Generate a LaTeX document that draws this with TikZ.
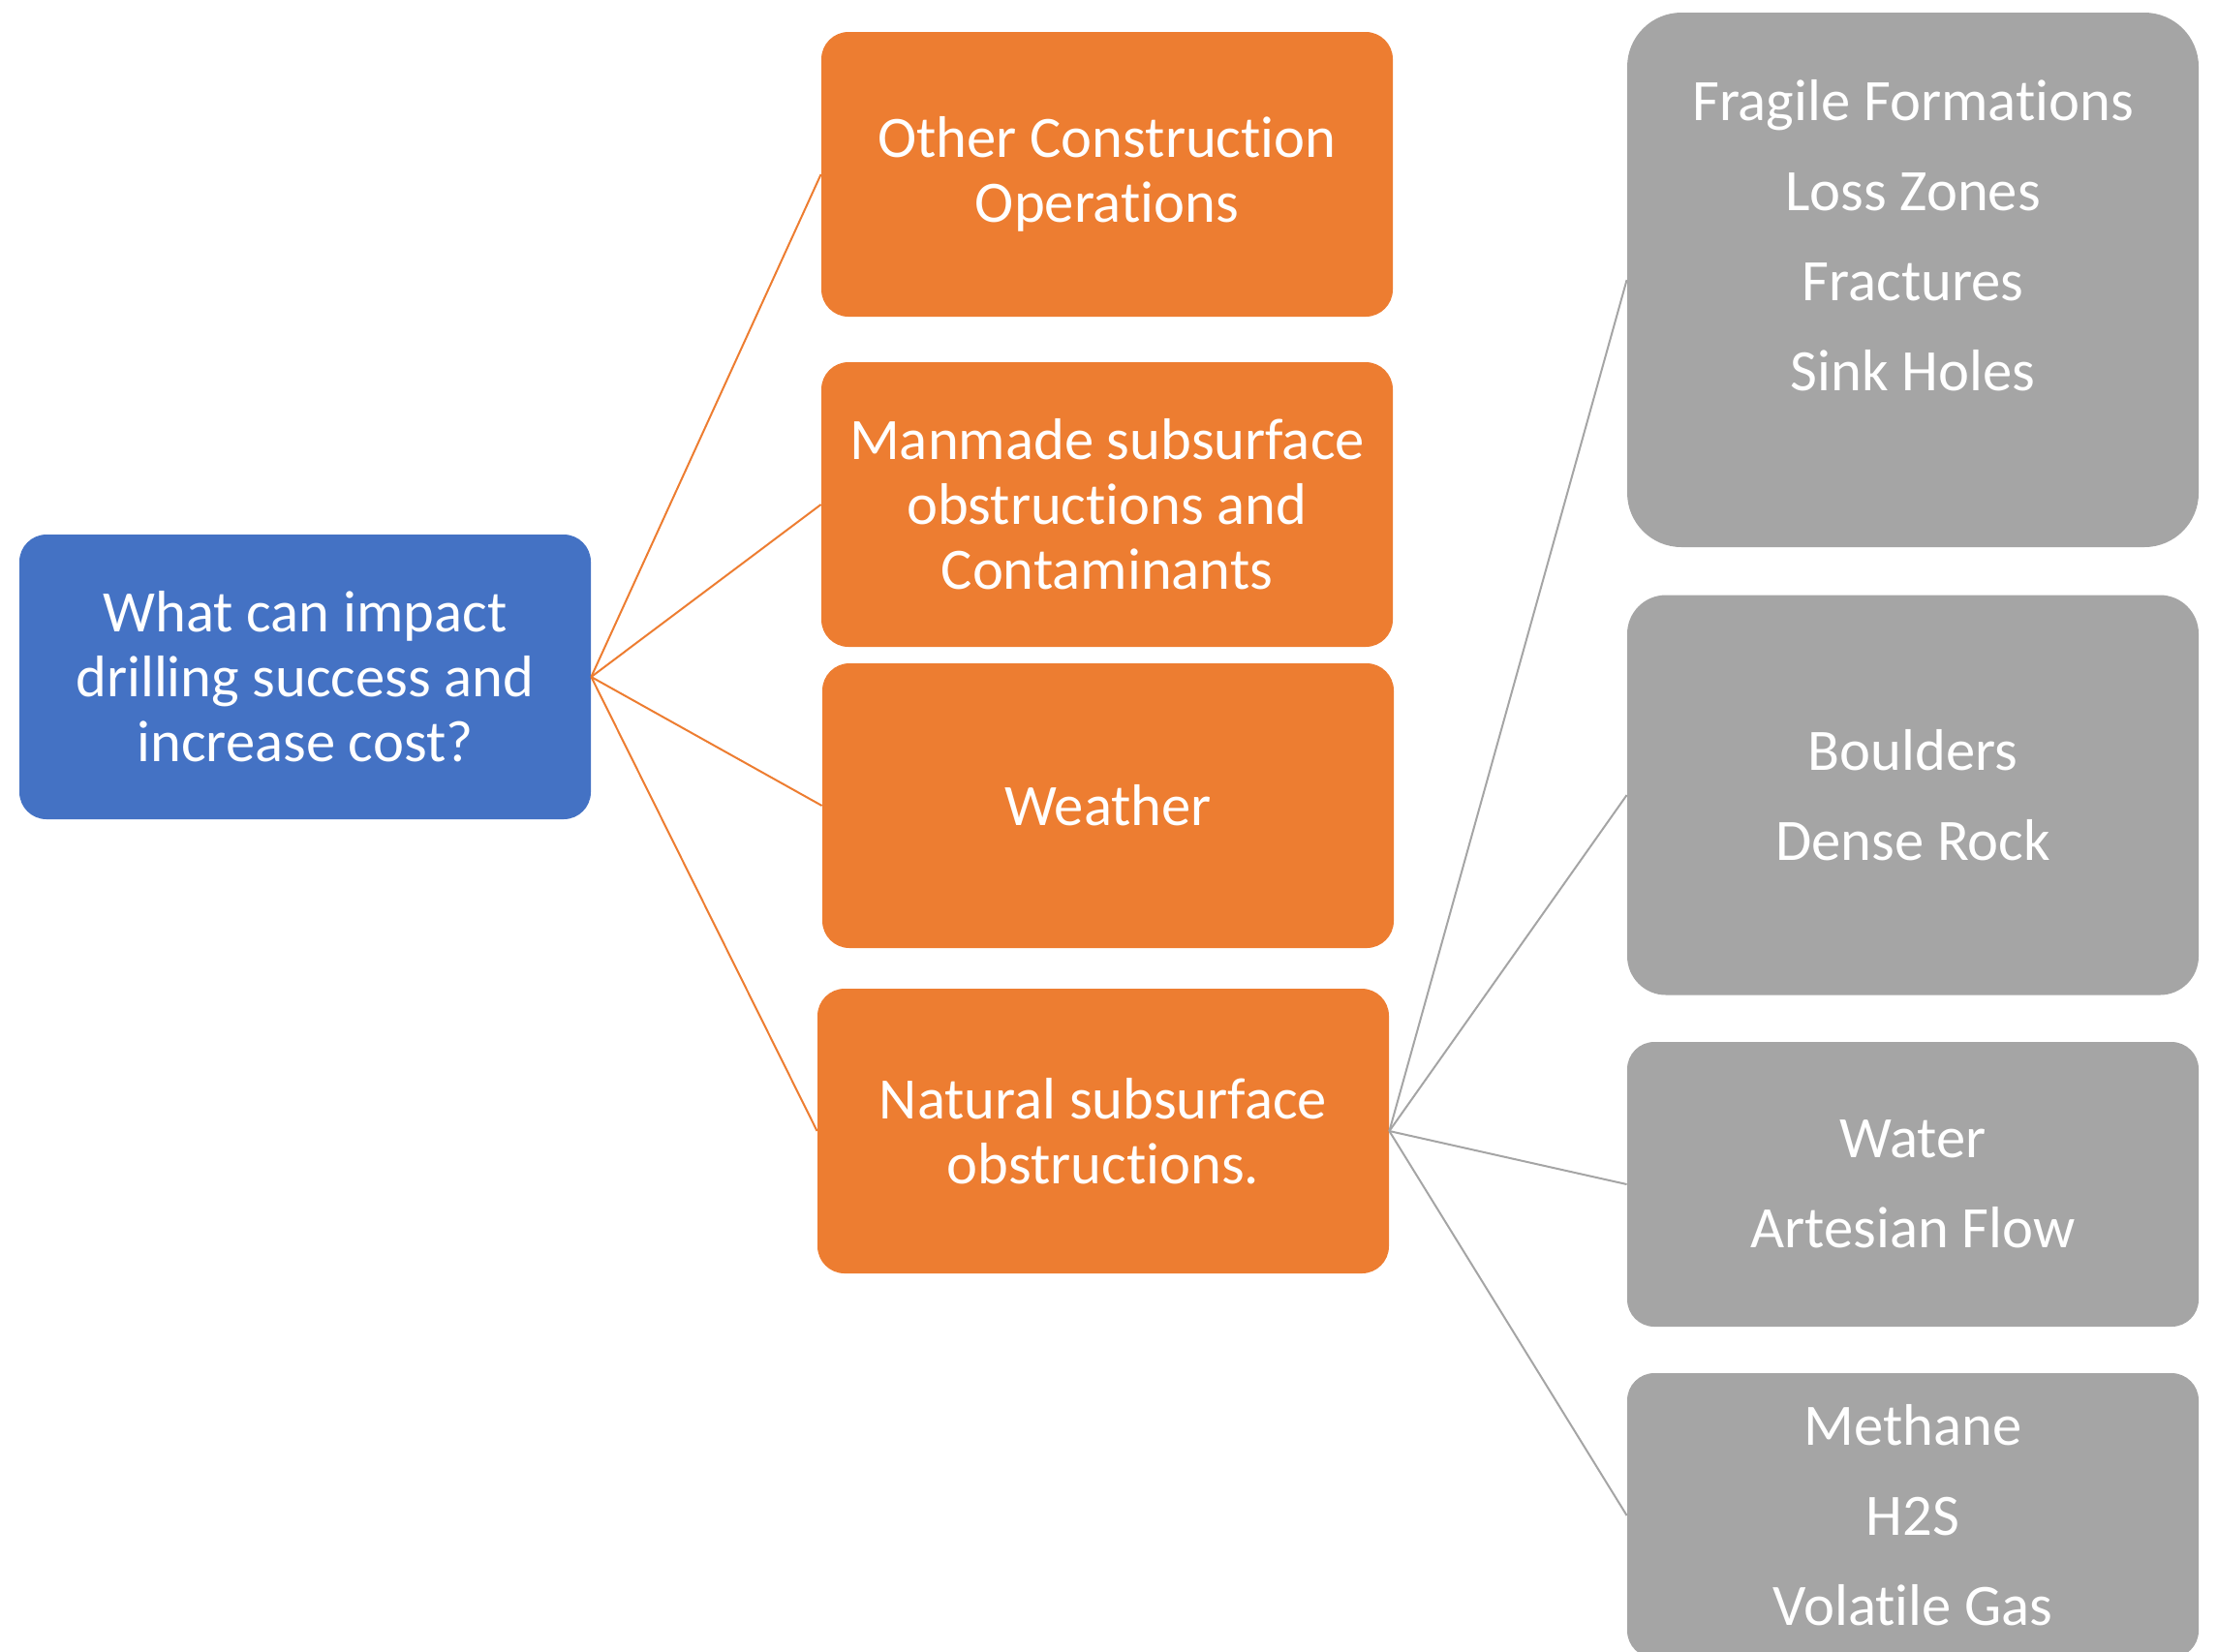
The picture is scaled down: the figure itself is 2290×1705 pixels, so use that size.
\documentclass[tikz,border=0pt]{standalone}
\usepackage{fontspec}
\setmainfont{Carlito}[Ligatures=NoCommon]
\usepackage{tikz}

\definecolor{rootblue}{HTML}{4472C4}
\definecolor{causeorange}{HTML}{ED7D31}
\definecolor{detailgray}{HTML}{A5A5A5}

\begin{document}
\begin{tikzpicture}[x=0.5pt, y=-0.5pt,
    box/.style={rectangle, rounded corners=14pt, inner sep=0pt, text=white,
      align=center, minimum width=295pt, minimum height=147pt,
      font=\fontsize{30.3}{33.5}\selectfont},
    question/.style={box, fill=rootblue},
    cause/.style={box, fill=causeorange},
    detail/.style={box, fill=detailgray, font=\fontsize{30.3}{46.5}\selectfont},
    causeline/.style={draw=causeorange, line width=1pt},
    detailline/.style={draw=detailgray, line width=1pt}]
  \useasboundingbox (0,0) rectangle (2290,1705);

  \node[question] (Q) at (315,699) {What can impact\\drilling success and\\increase cost?};

  \node[cause] (other)   at (1143,180)  {Other Construction\\Operations};
  \node[cause] (manmade) at (1143,521)  {Manmade subsurface\\obstructions and\\Contaminants};
  \node[cause] (weather) at (1144,832)  {Weather};
  \node[cause] (natural) at (1139,1168) {Natural subsurface\\obstructions.};

  \node[detail, minimum height=276pt, rounded corners=28pt] (fragile) at (1975,289)
    {Fragile Formations\\Loss Zones\\Fractures\\Sink Holes\\\mbox{}};
  \node[detail, minimum height=206.5pt, rounded corners=20pt] (rock) at (1975,821)
    {Boulders\\Dense Rock};
  \node[detail] (water) at (1975,1223) {Water\\Artesian Flow};
  \node[detail] (gas)   at (1975,1565) {Methane\\H2S\\Volatile Gas};

  \path[causeline] (Q.east) -- (other.west);
  \path[causeline] (Q.east) -- (manmade.west);
  \path[causeline] (Q.east) -- (weather.west);
  \path[causeline] (Q.east) -- (natural.west);

  \path[detailline] (natural.east) -- (fragile.west);
  \path[detailline] (natural.east) -- (rock.west);
  \path[detailline] (natural.east) -- (water.west);
  \path[detailline] (natural.east) -- (gas.west);
\end{tikzpicture}
\end{document}
